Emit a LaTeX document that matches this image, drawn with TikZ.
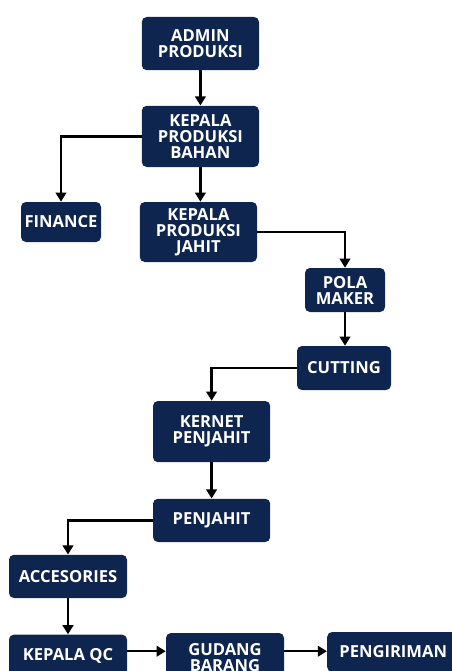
\documentclass[tikz,border=0pt]{standalone}
\usepackage{fontspec}
\setsansfont{Open Sans}
\usetikzlibrary{arrows.meta,positioning,calc}
\definecolor{navy}{HTML}{0E2550}
\begin{document}
\begin{tikzpicture}[>={Triangle[width=7.5pt,length=6.5pt]},font=\sffamily\bfseries\fontsize{11.8}{11.4}\selectfont]
\tikzstyle{box}=[fill=navy,text=white,rounded corners=3.5pt,minimum width=2.93cm,align=center,inner sep=2pt]
\tikzstyle{ln}=[draw=black,line width=1.7pt]
\useasboundingbox (0,0) rectangle (11.3,-16.775);
\clip (0,0) rectangle (11.3,-16.775);
\node[box,minimum height=1.33cm] (admin) at (5.01,-1.09) {ADMIN\\PRODUKSI};
\node[box,minimum height=1.53cm] (kpb) at (5.01,-3.41) {KEPALA\\PRODUKSI\\BAHAN};
\node[box,minimum width=2.0cm,minimum height=1.0cm] (finance) at (1.525,-5.55) {FINANCE};
\node[box,minimum height=1.5cm] (kpj) at (4.96,-5.8) {KEPALA\\PRODUKSI\\JAHIT};
\node[box,minimum width=2.0cm,minimum height=1.1cm] (pola) at (8.625,-7.25) {POLA\\MAKER};
\node[box,minimum width=2.35cm,minimum height=1.1cm] (cutting) at (8.6,-9.2) {CUTTING};
\node[box,minimum height=1.53cm] (kernet) at (5.29,-10.79) {KERNET\\PENJAHIT};
\node[box,minimum height=1.08cm] (penjahit) at (5.29,-13.01) {PENJAHIT};
\node[box,minimum width=2.95cm,minimum height=1.08cm] (acc) at (1.7,-14.41) {ACCESORIES};
\node[box,minimum width=2.95cm,minimum height=1.05cm] (kqc) at (1.7,-16.39) {KEPALA QC};
\node[box,minimum width=2.95cm,minimum height=1.25cm] (gudang) at (5.625,-16.45) {GUDANG\\BARANG};
\node[box,minimum width=3.3cm,minimum height=1.0cm] (kirim) at (9.83,-16.3) {PENGIRIMAN};
\coordinate (row) at (0,-16.28);
% connectors
\draw[ln,->] (admin) -- (kpb);
\draw[ln,->] (kpb.west) -| (finance.north);
\draw[ln,->] (kpb.south) -- (kpb.south |- kpj.north);
\draw[ln,->] (kpj.east) -| (pola.north);
\draw[ln,->] (pola.south) -- (pola.south |- cutting.north);
\draw[ln,->] (cutting.west) -| (kernet.north);
\draw[ln,->] (kernet) -- (penjahit);
\draw[ln,->] (penjahit.west) -| (acc.north);
\draw[ln,->] (acc) -- (kqc);
\draw[ln,->] (kqc.east |- row) -- (gudang.west |- row);
\draw[ln,->] (gudang.east |- row) -- (kirim.west |- row);
\end{tikzpicture}
\end{document}
